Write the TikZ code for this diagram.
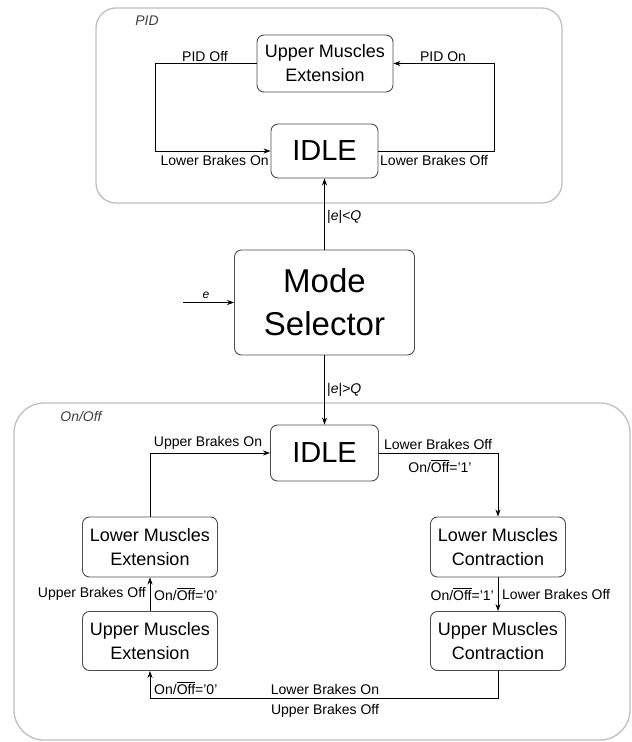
\documentclass[tikz,border=0pt]{standalone}
\usepackage{fontspec}
\setmainfont{Liberation Sans}
\usetikzlibrary{arrows.meta}
\newcommand{\ovl}[1]{$\overline{\mbox{#1}}$}
\begin{document}
\begin{tikzpicture}[x=1pt,y=-1pt,
  container/.style={draw=black!25, line width=1.3pt, inner sep=0pt},
  state/.style={draw=black!70, line width=0.9pt, rounded corners=7pt, align=center,
    font=\fontsize{18}{24}\selectfont, inner sep=0pt},
  bigstate/.style={state, font=\fontsize{29}{34}\selectfont},
  lbl/.style={font=\fontsize{14}{16}\selectfont, inner sep=1pt},
  conn/.style={draw=black, line width=0.8pt, -{Stealth[length=7pt,width=5pt]}},
  ttl/.style={font=\itshape\fontsize{14}{16}\selectfont, text=black!75, inner sep=0pt}]
\useasboundingbox (0,0) rectangle (632,742);

% containers
\node[container, rounded corners=20pt, minimum width=466pt, minimum height=195pt] (pid) at (329,105.5) {};
\node[container, rounded corners=30pt, minimum width=616pt, minimum height=337pt] (onoff) at (322,571.5) {};
\node[ttl] (pidt) at (147,21) {PID};
\node[ttl] (onofft) at (81,416) {On/Off};

% PID part
\node[state, minimum width=136pt, minimum height=57pt] (pume) at (325,63.5) {Upper Muscles\\Extension};
\node[bigstate, minimum width=107pt, minimum height=54pt] (pidle) at (324.5,151) {IDLE};
\coordinate (pl) at (155,63.5);
\coordinate (pr) at (494,151);
\draw[conn] (pume.west) -- (pl) |- (pidle.west);
\draw[conn] (pidle.east) -- (pr) |- (pume.east);
\node[lbl, anchor=south] (l1) at (205,63) {PID Off};
\node[lbl, anchor=south] (l2) at (443,63) {PID On};
\node[lbl, anchor=north east] (l3) at (270,154) {Lower Brakes On};
\node[lbl, anchor=north west] (l4) at (379,154) {Lower Brakes Off};

% mode selector
\node[state, font=\fontsize{33}{43}\selectfont, minimum width=180pt, minimum height=105pt] (ms) at (324.5,302.5) {Mode\\Selector};
\draw[conn] (ms.north) -- (pidle.south);
\node[lbl, anchor=west] (lq1) at (326,217) {|\textit{e}|<\textit{Q}};
\coordinate (ein) at (183,302.5);
\draw[conn] (ein) -- (ms.west);
\node[lbl, anchor=south, font=\itshape\fontsize{12}{14}\selectfont] (le) at (206,300) {e};

% On/Off part
\node[bigstate, minimum width=108pt, minimum height=56pt] (oidle) at (324.5,453) {IDLE};
\draw[conn] (ms.south) -- (oidle.north);
\node[lbl, anchor=west] (lq2) at (326,390) {|\textit{e}|>\textit{Q}};

\node[state, minimum width=135pt, minimum height=60pt] (lme) at (150,547) {Lower Muscles\\Extension};
\node[state, minimum width=135pt, minimum height=60pt] (lmc) at (498,547) {Lower Muscles\\Contraction};
\node[state, minimum width=135pt, minimum height=59pt] (ume) at (150,641) {Upper Muscles\\Extension};
\node[state, minimum width=135pt, minimum height=59pt] (umc) at (498,641) {Upper Muscles\\Contraction};

\draw[conn] (lme.north) |- (oidle.west);
\draw[conn] (oidle.east) -| (lmc.north);
\draw[conn] (lmc.south) -- (umc.north);
\draw[conn] (ume.north) -- (lme.south);
\coordinate (bot) at (0,698);
\draw[conn] (umc.south) -- (umc.south |- bot) -| (ume.south);

\node[lbl, anchor=south] (m1) at (208,451) {Upper Brakes On};
\node[lbl, anchor=south] (m2) at (438,451) {Lower Brakes Off};
\node[lbl] (m3) at (440,466) {On/\ovl{Off}='1'};
\node[lbl, anchor=east] (m4) at (495,594) {On/\ovl{Off}='1'};
\node[lbl, anchor=west] (m5) at (501,594) {Lower Brakes Off};
\node[lbl, anchor=east] (m6) at (147,594) {Upper Brakes Off};
\node[lbl, anchor=west] (m7) at (153,594) {On/\ovl{Off}='0'};
\node[lbl, anchor=west] (m8) at (153,688) {On/\ovl{Off}='0'};
\node[lbl] (m9) at (325,689) {Lower Brakes On};
\node[lbl] (m10) at (325,711) {Upper Brakes Off};
\end{tikzpicture}
\end{document}
